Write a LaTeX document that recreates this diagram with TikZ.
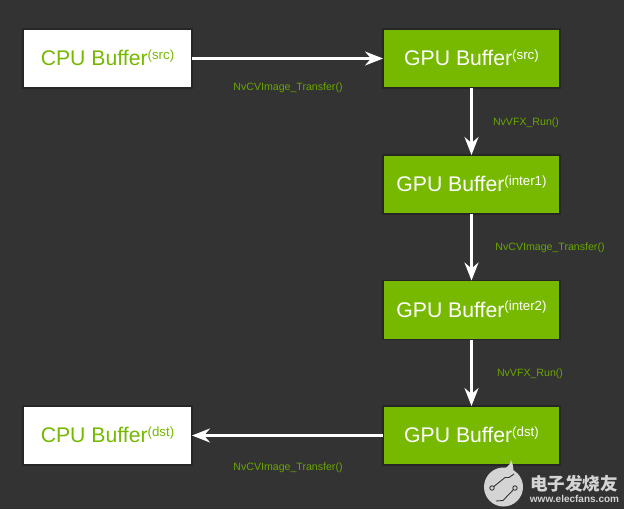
\documentclass[tikz,border=0pt]{standalone}
\usepackage{fontspec}
\setmainfont{Liberation Sans}
\newfontfamily\cjk{Noto Sans CJK SC}
\usetikzlibrary{arrows.meta}
\definecolor{nvgreen}{HTML}{76B900}
\definecolor{nvlabel}{HTML}{68A600}
\definecolor{nvback}{HTML}{333333}
\definecolor{nvmark}{HTML}{D4D4D4}
\tikzset{
    bufbox/.style={draw=black!85,line width=1.3pt,minimum height=59pt,inner sep=0pt,outer sep=0pt,font=\fontsize{21.2pt}{24pt}\selectfont},
    cpubuf/.style={bufbox,fill=white,text=nvgreen,minimum width=169pt},
    gpubuf/.style={bufbox,fill=nvgreen,text=white,minimum width=177pt},
    link/.style={draw=white,line width=2.4pt,-{Stealth[length=18pt,width=14pt,inset=6pt]}},
    fnlabel/.style={text=nvlabel,inner sep=0pt,font=\fontsize{10.6pt}{12pt}\selectfont},
}
\def\buf#1#2{\raisebox{1.5pt}{#1 Buffer\raisebox{6.5pt}{\fontsize{13.3pt}{15pt}\selectfont(#2)}}}
\def\dlink{\draw[link]}
\begin{document}
\begin{tikzpicture}[x=1pt,y=-1pt]
    \fill[nvback] (0,0) rectangle (624,509);
    \useasboundingbox (0,0) rectangle (624,509);
    \node[cpubuf] (cpusrc)  at (107.5, 58.5) {\buf{CPU}{src}};
    \node[gpubuf] (gpusrc)  at (471.5, 58.5) {\buf{GPU}{src}};
    \node[gpubuf] (inter1)  at (471.5,184.5) {\buf{GPU}{inter1}};
    \node[gpubuf] (inter2)  at (471.5,310)   {\buf{GPU}{inter2}};
    \node[gpubuf] (gpudst)  at (471.5,435.5) {\buf{GPU}{dst}};
    \node[cpubuf] (cpudst)  at (107.5,435.5) {\buf{CPU}{dst}};
    \dlink (cpusrc) -- (gpusrc);
    \dlink (gpusrc) -- (inter1);
    \dlink (inter1) -- (inter2);
    \dlink (inter2) -- (gpudst);
    \dlink (gpudst) -- (cpudst);
    \node[fnlabel] (lblone)   at (288, 87.7)  {NvCVImage\_Transfer()};
    \node[fnlabel] (lbltwo)   at (526,122.7)  {NvVFX\_Run()};
    \node[fnlabel] (lblthree) at (550,247.7)  {NvCVImage\_Transfer()};
    \node[fnlabel] (lblfour)  at (530,373.7)  {NvVFX\_Run()};
    \node[fnlabel] (lblfive)  at (288,467.7)  {NvCVImage\_Transfer()};
    % watermark
    \fill[nvmark] (503.5,487) circle (19.5);
    \fill[nvmark] (497,471) .. controls (505,469) and (511,466) .. (511,460)
        .. controls (514,466) and (514,472) .. (512,478) -- cycle;
    \draw[nvback,line width=0.9pt] (492,488) -- (505,477.5) -- (509,477.5) -- (514,474)
        (515,488) -- (503,500.5) -- (496,501);
    \filldraw[fill=nvmark,draw=nvback,line width=0.9pt] (492,488) circle (2.2) (515,488) circle (2.2);
    \node[text=nvmark,inner sep=0pt,font=\cjk\bfseries\fontsize{17.6pt}{20pt}\selectfont] (marktitle) at (574,484) {电子发烧友};
    \node[text=nvmark,inner sep=0pt,font=\bfseries\fontsize{10pt}{12pt}\selectfont] (markurl) at (574.5,499) {www.elecfans.com};
\end{tikzpicture}
\end{document}
